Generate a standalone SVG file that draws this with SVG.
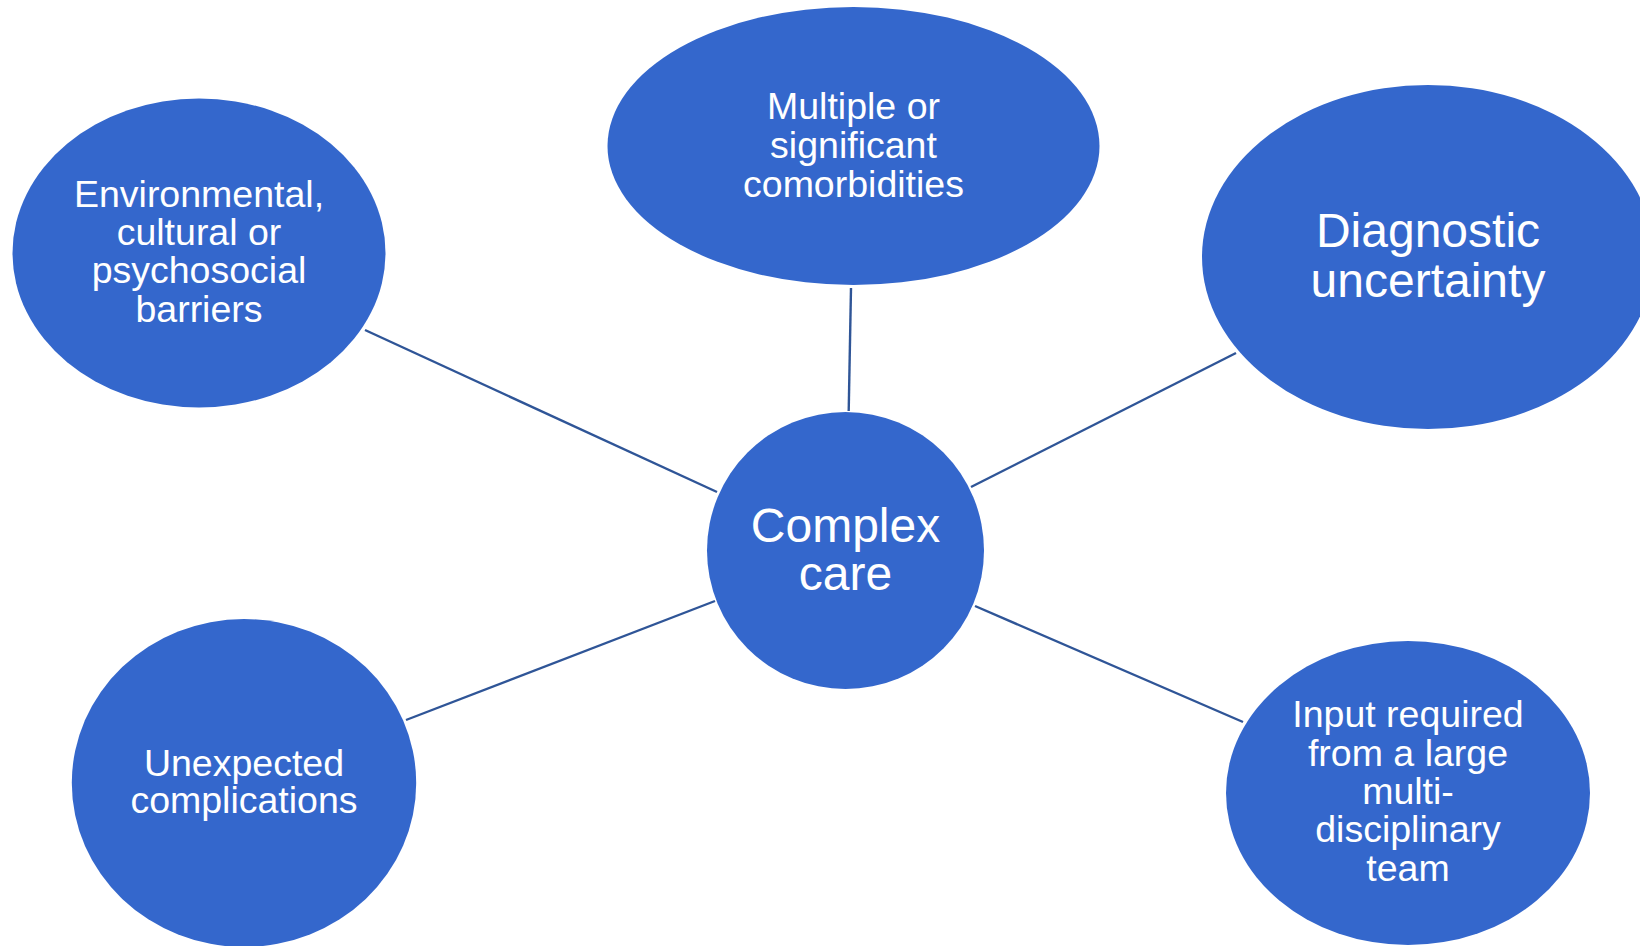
<svg xmlns="http://www.w3.org/2000/svg" width="1640" height="946" viewBox="0 0 1640 946">
<style>
.n{fill:#3467CC}
.t{fill:#FFFFFF;font-family:"Liberation Sans",Arial,sans-serif;text-anchor:middle}
.s{font-size:37.5px}
.l{font-size:48px}
.c{stroke:#2F5597;stroke-width:2.4;fill:none}
</style>
<rect width="1640" height="946" fill="#FFFFFF"/>
<g id="connectors">
<line class="c" x1="365" y1="330" x2="717" y2="492"/>
<line class="c" x1="851" y1="288" x2="848.7" y2="411"/>
<line class="c" x1="971" y1="487" x2="1236" y2="353"/>
<line class="c" x1="975" y1="606" x2="1243" y2="722"/>
<line class="c" x1="406" y1="720" x2="715" y2="601"/>
</g>
<g id="env">
<ellipse class="n" cx="199" cy="253" rx="186.5" ry="154.5"/>
<text class="t s" x="199" y="206.7">Environmental,</text>
<text class="t s" x="199" y="245">cultural or</text>
<text class="t s" x="199" y="283.3">psychosocial</text>
<text class="t s" x="199" y="322.3">barriers</text>
</g>
<g id="multiple">
<ellipse class="n" cx="853.5" cy="146" rx="246" ry="139"/>
<text class="t s" x="853.5" y="119.3">Multiple or</text>
<text class="t s" x="853.5" y="158">significant</text>
<text class="t s" x="853.5" y="197.3">comorbidities</text>
</g>
<g id="diagnostic">
<ellipse class="n" cx="1428" cy="257" rx="226" ry="172"/>
<text class="t l" x="1428" y="246.7">Diagnostic</text>
<text class="t l" x="1428" y="296.7">uncertainty</text>
</g>
<g id="complex">
<circle class="n" cx="845.5" cy="550.5" r="138.5"/>
<text class="t l" x="845.5" y="541.7">Complex</text>
<text class="t l" x="845.5" y="590">care</text>
</g>
<g id="unexpected">
<ellipse class="n" cx="244" cy="783" rx="172.2" ry="164"/>
<text class="t s" x="244" y="775.7">Unexpected</text>
<text class="t s" x="244" y="813.3">complications</text>
</g>
<g id="input">
<ellipse class="n" cx="1408" cy="793" rx="182" ry="152"/>
<text class="t s" x="1408" y="726.7">Input required</text>
<text class="t s" x="1408" y="765.7">from a large</text>
<text class="t s" x="1408" y="804.3">multi-</text>
<text class="t s" x="1408" y="841.7">disciplinary</text>
<text class="t s" x="1408" y="881">team</text>
</g>
</svg>
